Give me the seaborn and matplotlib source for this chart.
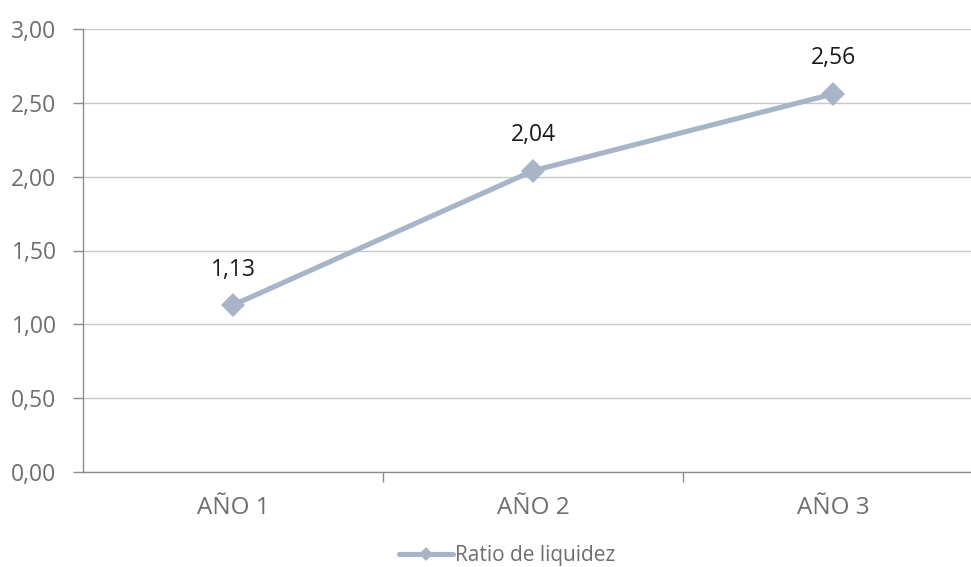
import matplotlib
matplotlib.use("Agg")
import matplotlib.pyplot as plt
import seaborn as sns
import pandas as pd
from matplotlib.ticker import FixedLocator, FuncFormatter

categorias = ["AÑO 1", "AÑO 2", "AÑO 3"]
ratio_liquidez = [1.13, 2.04, 2.56]
serie = "Ratio de liquidez"
y_ticks = [0.0, 0.5, 1.0, 1.5, 2.0, 2.5, 3.0]

df = pd.DataFrame({"pos": range(len(categorias)), "valor": ratio_liquidez})

sns.set_theme(style="white")
plt.rcParams["font.family"] = ["Open Sans", "DejaVu Sans"]

fig = plt.figure(figsize=(9.71, 5.67), dpi=100)
ax = fig.add_axes([83 / 971, 95 / 567, 900 / 971, 443 / 567])

color = "#A8B5C9"
sns.lineplot(data=df, x="pos", y="valor", ax=ax, color=color, linewidth=3.7,
             marker="D", markersize=12.5, markeredgewidth=0, label=serie)

for x, v in zip(df["pos"], df["valor"]):
    ax.annotate(f"{v:.2f}".replace(".", ","), (x, v), xytext=(0, 17),
                textcoords="offset points", ha="center", va="bottom",
                fontsize=16.5, color="#1a1a1a")

ax.set_xlim(-0.5, 2.5)
ax.set_ylim(0, 3.0)
ax.set_yticks(y_ticks)
ax.yaxis.set_major_formatter(FuncFormatter(lambda v, p: f"{v:.2f}".replace(".", ",")))
ax.set_xticks(range(len(categorias)))
ax.set_xticklabels(categorias)
ax.xaxis.set_minor_locator(FixedLocator([0.5, 1.5]))
ax.set_xlabel("")
ax.set_ylabel("")

ax.grid(axis="y", color="#C8C8C8", linewidth=1)
ax.set_axisbelow(True)
for s in ["top", "right"]:
    ax.spines[s].set_visible(False)
for s in ["left", "bottom"]:
    ax.spines[s].set_color("#8C8C8C")
    ax.spines[s].set_linewidth(1)

ax.tick_params(axis="y", which="major", direction="out", length=7, width=1,
               color="#8C8C8C", labelsize=16.5, labelcolor="#6E6E6E", pad=12, left=True)
ax.tick_params(axis="x", which="major", length=0, labelsize=17.5,
               labelcolor="#6E6E6E", pad=17)
ax.tick_params(axis="x", which="minor", direction="out", length=7, width=1,
               color="#8C8C8C", bottom=True)

leg = ax.legend(loc="center", bbox_to_anchor=(507 / 971, 11 / 567),
                bbox_transform=fig.transFigure, frameon=False, fontsize=15,
                handlelength=2.6, handletextpad=0.1)
for t in leg.get_texts():
    t.set_color("#6E6E6E")
for h in leg.legend_handles:
    h.set_markersize(7)

fig.savefig("out.png", dpi=100)
